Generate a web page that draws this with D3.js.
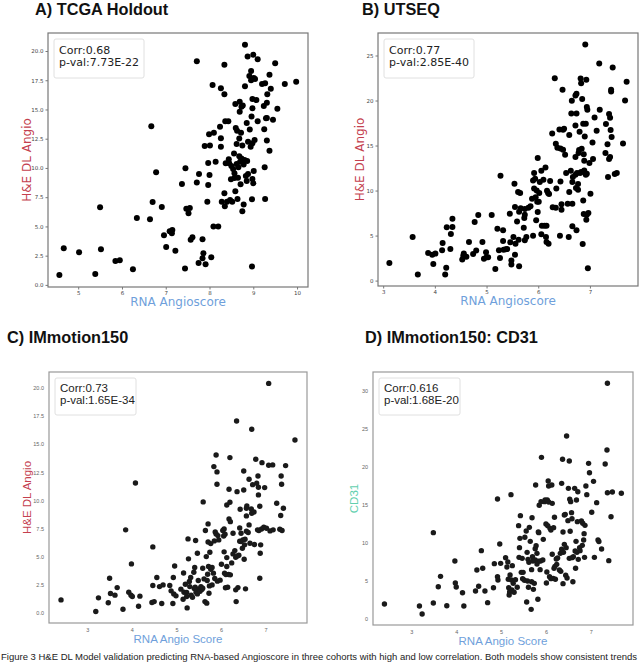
<!DOCTYPE html>
<html>
<head>
<meta charset="utf-8">
<script src="https://cdn.jsdelivr.net/npm/d3@7"></script>
<style>
  html, body { margin: 0; padding: 0; background: #fff; }
  svg { display: block; }
</style>
</head>
<body>
<svg id="chart" width="640" height="663"></svg>
<script>
// ---------------- DATA ----------------
const titles = ["A) TCGA Holdout", "B) UTSEQ", "C) IMmotion150", "D) IMmotion150: CD31"];
const xLabels = ["RNA Angioscore", "RNA Angioscore", "RNA Angio Score", "RNA Angio Score"];
const yLabels = ["H&E DL Angio", "H&E DL Angio", "H&E DL Angio", "CD31"];
const corrTexts = ["Corr:0.68", "Corr:0.77", "Corr:0.73", "Corr:0.616"];
const pvalTexts = ["p-val:7.73E-22", "p-val:2.85E-40", "p-val:1.65E-34", "p-val:1.68E-20"];

const xTicksA = [5, 6, 7, 8, 9, 10];
const yTicksA = [0, 2.5, 5, 7.5, 10, 12.5, 15, 17.5, 20];
const xTicksB = [3, 4, 5, 6, 7];
const yTicksB = [0, 5, 10, 15, 20, 25];
const xTicksC = [3, 4, 5, 6, 7];
const yTicksC = [0, 2.5, 5, 7.5, 10, 12.5, 15, 17.5, 20];
const xTicksD = [3, 4, 5, 6, 7];
const yTicksD = [0, 5, 10, 15, 20, 25, 30];

// Panel A: TCGA Holdout (RNA Angioscore, H&E DL Angio)
const tcga = [
[4.57,0.85],[4.67,3.13],[5.02,2.79],[5.39,0.94],[5.50,6.64],[5.52,3.05],[5.85,2.05],[5.95,2.1],
[6.25,1.34],[6.34,5.73],[6.64,5.61],[6.67,13.56],[6.70,7.09],[6.78,9.63],[6.91,6.67],[6.96,4.24],
[7.01,3.25],[7.09,4.59],[7.15,4.70],[7.14,4.42],[7.22,2.93],[7.37,8.63],[7.44,1.40],[7.45,9.97],
[7.47,6.52],[7.52,6.13],[7.55,6.58],[7.57,3.85],[7.61,4.07],[7.71,19.12],[7.71,8.75],[7.76,9.49],
[7.75,1.88],[7.84,3.90],[7.84,2.28],[7.86,2.71],[7.89,11.88],[7.91,1.77],[7.95,7.12],[7.97,10.43],
[7.97,8.55],[7.99,12.88],[8.00,9.40],[8.01,11.91],[8.04,2.36],[8.07,17.09],[8.09,4.99],[8.10,13.02],
[8.14,10.54],[8.20,4.99],[8.24,13.53],[8.26,16.81],[8.26,11.82],[8.26,12.54],[8.28,7.12],[8.34,16.30],
[8.34,18.83],[8.34,7.83],[8.35,6.72],[8.36,13.99],[8.37,10.40],[8.40,7.12],[8.43,13.99],[8.44,10.74],
[8.45,10.40],[8.47,7.26],[8.49,9.03],[8.50,10.17],[8.52,7.12],[8.56,11.23],[8.57,9.15],[8.57,9.54],
[8.59,8.01],[8.59,15.47],[8.60,13.42],[8.62,10.34],[8.62,12.05],[8.63,13.19],[8.64,7.35],[8.65,9.17],
[8.66,10.06],[8.68,12.51],[8.69,14.81],[8.69,15.67],[8.70,10.54],[8.71,8.60],[8.72,13.02],[8.73,15.24],
[8.73,10.80],[8.75,6.30],[8.75,11.91],[8.76,15.33],[8.78,6.87],[8.80,10.68],[8.81,20.54],[8.81,16.98],
[8.83,9.32],[8.85,13.85],[8.85,8.89],[8.86,10.60],[8.87,19.52],[8.88,12.25],[8.88,9.49],[8.91,17.86],
[8.92,13.28],[8.94,11.82],[8.95,17.49],[8.95,18.29],[8.96,14.39],[8.97,7.32],[8.97,1.57],[8.98,15.90],
[8.98,12.11],[8.98,9.06],[9.00,19.69],[9.00,8.69],[9.01,9.74],[9.01,17.69],[9.03,12.39],[9.04,17.61],
[9.07,15.81],[9.10,19.29],[9.10,13.99],[9.20,17.18],[9.24,15.30],[9.25,13.30],[9.26,10.06],[9.27,7.35],
[9.27,17.24],[9.29,14.25],[9.31,14.27],[9.31,12.34],[9.31,15.58],[9.32,16.30],[9.37,17.98],[9.37,11.48],
[9.40,16.78],[9.45,14.13],[9.50,18.95],[9.55,15.07],[9.72,17.18],[9.98,17.38],[8.98,15.10],[8.68,11.0],
[8.54,9.9],[8.78,10.3]
];

// Panel B: UTSEQ
const utseq = [
[3.12,1.96],[3.57,4.84],[3.67,0.67],[3.87,3.07],[3.95,2.88],[3.97,1.85],[4.01,3.0],[4.14,3.37],
[4.15,4.18],[4.20,0.67],[4.22,1.44],[4.23,5.92],[4.30,3.51],[4.31,5.18],[4.34,5.95],[4.34,6.88],
[4.53,2.33],[4.55,2.77],[4.56,3.0],[4.61,2.66],[4.66,4.29],[4.74,2.96],[4.77,6.51],[4.80,3.33],
[4.84,7.29],[4.92,4.29],[4.95,2.44],[4.99,3.14],[5.00,2.59],[5.03,2.59],[5.10,7.29],[5.17,1.29],
[5.21,5.77],[5.24,3.37],[5.26,2.51],[5.27,11.65],[5.32,4.40],[5.32,5.58],[5.33,3.44],[5.37,3.48],
[5.40,3.51],[5.45,7.43],[5.46,4.25],[5.48,1.78],[5.48,2.22],[5.52,4.84],[5.54,10.76],[5.55,2.88],
[5.55,8.17],[5.56,4.10],[5.59,6.55],[5.61,9.84],[5.62,4.55],[5.63,7.66],[5.63,1.59],[5.65,9.73],
[5.66,8.03],[5.72,5.88],[5.73,6.95],[5.74,4.47],[5.74,7.32],[5.74,7.95],[5.77,4.84],[5.81,8.10],
[5.85,8.25],[5.88,9.10],[5.90,4.99],[5.90,11.13],[5.92,11.95],[5.92,10.24],[5.94,11.32],[5.95,9.25],
[5.96,6.69],[5.97,10.02],[5.98,8.76],[5.99,13.61],[5.99,7.62],[6.01,8.76],[6.02,9.73],[6.03,10.95],
[6.06,12.2],[6.06,5.14],[6.07,6.10],[6.10,11.21],[6.12,6.10],[6.14,12.57],[6.15,4.84],[6.16,6.10],
[6.16,4.29],[6.17,9.99],[6.19,9.73],[6.20,4.10],[6.21,9.62],[6.23,11.06],[6.27,16.35],[6.28,8.14],
[6.32,22.48],[6.34,15.2],[6.34,8.10],[6.35,10.24],[6.37,14.76],[6.41,16.79],[6.42,4.99],[6.43,14.68],
[6.43,11.02],[6.45,8.47],[6.45,7.88],[6.47,21.19],[6.48,14.53],[6.48,16.75],[6.50,16.86],[6.52,13.98],
[6.54,11.95],[6.57,8.54],[6.59,4.84],[6.60,16.16],[6.60,9.84],[6.63,12.2],[6.64,18.56],[6.65,19.97],
[6.66,10.95],[6.66,6.03],[6.66,8.54],[6.67,11.5],[6.72,20.56],[6.72,13.72],[6.72,17.23],[6.72,11.76],
[6.73,10.28],[6.74,20.75],[6.74,18.56],[6.74,5.58],[6.75,11.95],[6.77,10.72],[6.77,10.1],[6.78,14.16],
[6.79,14.50],[6.80,16.53],[6.81,11.95],[6.82,22.45],[6.83,21.93],[6.83,12.06],[6.84,14.64],[6.85,20.16],
[6.86,4.07],[6.87,17.42],[6.87,8.91],[6.88,7.40],[6.88,14.02],[6.89,13.31],[6.89,12.24],[6.90,16.01],
[6.91,26.22],[6.92,11.76],[6.92,17.42],[6.93,22.30],[6.93,6.77],[6.94,11.87],[6.94,19.27],[6.94,7.32],
[6.95,18.97],[6.96,1.37],[6.97,7.51],[6.99,13.05],[7.01,9.65],[7.05,15.35],[7.06,13.50],[7.09,18.12],
[7.13,16.64],[7.18,24.11],[7.19,18.97],[7.30,14.16],[7.31,17.38],[7.34,15.13],[7.35,11.50],[7.37,13.50],
[7.37,18.49],[7.39,18.08],[7.39,13.72],[7.40,16.72],[7.41,21.19],[7.41,21.0],[7.42,15.94],[7.44,23.67],
[7.48,11.83],[7.52,11.95],[7.64,15.24],[7.68,20.01],[7.71,22.08]
];

// Panel C: IMmotion150 (RNA Angio Score, H&E DL Angio)
const immotion = [
[2.41,1.18],[3.19,0.15],[3.25,1.36],[3.47,0.92],[3.50,3.10],[3.52,1.74],[3.62,1.60],[3.67,2.27],
[3.80,0.35],[3.86,7.39],[3.93,1.86],[3.98,1.60],[3.99,4.37],[4.01,1.48],[4.08,11.55],[4.15,0.62],
[4.18,1.51],[4.45,0.95],[4.47,5.88],[4.47,2.45],[4.50,1.03],[4.56,3.16],[4.62,2.36],[4.67,0.86],
[4.70,2.51],[4.85,2.45],[4.88,1.98],[4.92,0.86],[4.93,3.16],[4.94,1.71],[4.96,4.19],[4.99,1.54],
[5.10,2.13],[5.15,1.24],[5.16,3.57],[5.17,1.86],[5.20,2.57],[5.23,1.83],[5.23,1.48],[5.24,0.47],
[5.26,6.59],[5.27,4.82],[5.29,2.81],[5.30,2.36],[5.32,3.16],[5.33,1.60],[5.36,1.42],[5.39,3.63],
[5.40,2.19],[5.41,4.05],[5.42,2.30],[5.43,6.44],[5.44,1.86],[5.47,5.32],[5.47,1.71],[5.49,2.90],
[5.50,2.16],[5.52,2.01],[5.53,1.95],[5.55,2.36],[5.57,2.1],[5.59,3.99],[5.59,2.22],[5.60,9.87],
[5.62,3.04],[5.64,1.03],[5.65,7.33],[5.67,5.02],[5.68,0.89],[5.69,2.90],[5.70,3.46],[5.71,6.32],
[5.71,7.92],[5.72,4.14],[5.73,1.77],[5.74,2.42],[5.75,5.41],[5.77,6.17],[5.77,3.90],[5.80,4.05],
[5.80,2.51],[5.83,3.55],[5.84,13.0],[5.85,6.41],[5.86,3.07],[5.87,7.21],[5.89,14.03],[5.89,7.03],
[5.91,12.53],[5.91,11.43],[5.92,2.84],[5.93,6.88],[5.95,6.50],[5.98,2.93],[6.01,4.34],[6.04,7.33],
[6.06,6.85],[6.07,7.47],[6.07,5.44],[6.08,3.55],[6.09,7.00],[6.10,2.25],[6.11,3.43],[6.13,4.14],
[6.13,4.93],[6.13,9.60],[6.15,2.30],[6.17,3.43],[6.18,10.99],[6.18,8.36],[6.20,13.80],[6.20,9.84],
[6.21,8.12],[6.21,3.40],[6.24,4.46],[6.27,7.09],[6.27,5.26],[6.31,5.55],[6.33,2.07],[6.33,4.96],
[6.34,1.03],[6.35,17.05],[6.36,10.78],[6.37,5.08],[6.38,2.27],[6.40,5.14],[6.42,7.56],[6.42,6.38],
[6.43,9.22],[6.45,7.09],[6.45,6.35],[6.48,5.76],[6.49,6.50],[6.51,10.93],[6.51,12.61],[6.52,4.79],
[6.53,6.06],[6.54,6.56],[6.55,2.16],[6.57,9.31],[6.57,8.63],[6.57,7.27],[6.58,9.51],[6.61,7.15],
[6.63,7.83],[6.63,11.88],[6.65,6.20],[6.68,9.25],[6.69,8.86],[6.69,16.31],[6.71,11.40],[6.74,8.98],
[6.75,6.09],[6.78,13.65],[6.80,11.52],[6.82,7.39],[6.83,12.17],[6.84,10.49],[6.84,11.17],[6.85,7.33],
[6.87,9.48],[6.87,3.10],[6.88,5.32],[6.89,6.06],[6.91,7.47],[6.92,13.35],[6.96,7.62],[6.98,11.14],
[7.02,7.53],[7.07,20.38],[7.07,13.12],[7.10,7.30],[7.16,13.15],[7.17,7.39],[7.25,9.75],[7.32,7.44],
[7.34,8.66],[7.35,12.17],[7.36,11.43],[7.37,7.33],[7.40,9.31],[7.45,13.09],[7.66,15.36]
];

// Panel D: IMmotion150 CD31 (RNA Angio Score, CD31)
const cd31 = [
[2.40,1.97],[3.18,1.71],[3.24,0.66],[3.49,2.11],[3.49,11.36],[3.60,4.25],[3.65,5.61],[3.79,1.75],
[3.97,7.63],[3.98,4.74],[4.00,4.21],[4.14,3.46],[4.17,1.71],[4.43,3.68],[4.46,6.45],[4.50,4.30],
[4.56,8.99],[4.59,6.67],[4.64,3.68],[4.70,2.15],[4.83,4.12],[4.85,7.28],[4.92,15.79],[4.92,5.57],
[4.93,5.13],[4.97,9.87],[4.99,7.32],[5.10,8.07],[5.13,6.84],[5.15,7.50],[5.16,5.22],[5.17,4.12],
[5.18,3.16],[5.19,3.55],[5.20,5.79],[5.22,16.36],[5.23,5.13],[5.24,3.82],[5.25,7.02],[5.27,4.69],
[5.29,3.51],[5.32,5.18],[5.36,4.17],[5.39,12.28],[5.40,8.11],[5.41,9.39],[5.42,10.61],[5.43,13.60],
[5.45,6.14],[5.47,7.98],[5.48,5.31],[5.49,6.14],[5.52,5.09],[5.53,10.75],[5.56,11.58],[5.57,2.24],
[5.58,8.77],[5.59,5.0],[5.60,7.85],[5.61,4.17],[5.62,7.46],[5.63,12.06],[5.65,10.22],[5.67,1.27],
[5.68,4.91],[5.68,6.49],[5.69,13.33],[5.70,8.20],[5.71,7.63],[5.72,3.90],[5.74,4.69],[5.76,9.25],
[5.76,7.76],[5.77,17.63],[5.78,9.65],[5.80,7.24],[5.80,8.64],[5.82,2.59],[5.83,11.45],[5.83,7.59],
[5.84,11.36],[5.85,14.96],[5.87,6.49],[5.88,7.63],[5.89,15.44],[5.90,21.27],[5.93,7.76],[5.94,10.48],
[5.97,15.44],[5.98,15.66],[6.00,12.5],[6.01,4.74],[6.02,6.18],[6.03,15.66],[6.04,12.28],[6.05,18.16],
[6.06,17.50],[6.06,15.39],[6.08,5.57],[6.09,11.93],[6.11,5.31],[6.11,11.71],[6.13,17.63],[6.14,15.22],
[6.14,8.51],[6.16,5.35],[6.17,12.02],[6.18,6.67],[6.19,13.38],[6.20,6.93],[6.21,5.22],[6.23,7.89],
[6.24,7.19],[6.26,8.03],[6.30,6.45],[6.32,8.64],[6.33,6.27],[6.35,9.17],[6.35,17.85],[6.37,21.01],
[6.38,11.45],[6.38,4.65],[6.39,8.77],[6.41,13.68],[6.41,9.82],[6.43,13.77],[6.44,5.75],[6.45,9.39],
[6.46,24.08],[6.47,5.39],[6.49,12.94],[6.50,17.19],[6.52,20.79],[6.52,7.98],[6.53,15.75],[6.54,11.54],
[6.55,15.44],[6.57,13.99],[6.58,8.07],[6.58,13.20],[6.60,4.91],[6.61,8.20],[6.64,17.19],[6.65,8.95],
[6.66,6.67],[6.67,10.22],[6.68,15.66],[6.69,8.77],[6.70,12.81],[6.71,16.75],[6.72,7.85],[6.75,9.39],
[6.76,8.99],[6.79,12.89],[6.81,9.69],[6.82,12.59],[6.84,10.39],[6.85,11.23],[6.86,8.11],[6.87,12.32],
[6.89,17.50],[6.91,16.36],[6.95,20.48],[6.97,19.25],[7.02,14.04],[7.06,18.11],[7.08,8.11],[7.13,15.31],
[7.16,10.39],[7.18,10.2],[7.24,9.21],[7.32,20.39],[7.36,22.24],[7.37,31.01],[7.37,16.62],[7.40,7.68],
[7.45,13.46],[7.48,16.71],[7.68,16.54]
];

const caption = "Figure 3 H&E DL Model validation predicting RNA-based Angioscore in three cohorts with high and low correlation. Both models show consistent trends";

// ---------------- LAYOUT ----------------
const panels = [
  { data: tcga, xTicks: xTicksA, yTicks: yTicksA, yFmt: d3.format(".1f"),
    box: [48, 33, 308, 287], xDom: [4.31, 10.25], yDom: [-0.18, 21.54],
    style: "mpl", titleX: 35, ylabX: 27, ylabColor: "#c4404e" },
  { data: utseq, xTicks: xTicksB, yTicks: yTicksB, yFmt: d3.format("d"),
    box: [378, 33, 638, 286], xDom: [2.9, 7.93], yDom: [-0.6, 27.5],
    style: "mpl", titleX: 362, ylabX: 360, ylabColor: "#c4404e" },
  { data: immotion, xTicks: xTicksC, yTicks: yTicksC, yFmt: d3.format(".1f"),
    box: [49, 372, 307, 623], xDom: [2.14, 7.93], yDom: [-0.87, 21.39],
    style: "sns", titleX: 7, ylabX: 27, ylabColor: "#c4404e" },
  { data: cd31, xTicks: xTicksD, yTicks: yTicksD, yFmt: d3.format("d"),
    box: [373, 372, 633, 625], xDom: [2.145, 7.94], yDom: [-0.79, 32.5],
    style: "sns", titleX: 365, ylabX: 354, ylabColor: "#62cfae" }
];

const svg = d3.select("#chart");
svg.append("rect").attr("width", 640).attr("height", 663).attr("fill", "#fff");

panels.forEach((p, i) => {
  const [x0, y0, x1, y1] = p.box;
  const mpl = p.style === "mpl";
  const font = mpl ? "DejaVu Sans, sans-serif" : "Liberation Sans, Arial, sans-serif";
  const x = d3.scaleLinear().domain(p.xDom).range([x0, x1]);
  const y = d3.scaleLinear().domain(p.yDom).range([y1, y0]);
  const g = svg.append("g");

  // title
  g.append("text").attr("x", p.titleX).attr("y", i < 2 ? 15 : 343)
    .attr("font-family", "Liberation Sans, Arial, sans-serif")
    .attr("font-weight", "bold").attr("font-size", 16.3).attr("fill", "#111")
    .text(titles[i]);

  // axes
  const xAxis = d3.axisBottom(x).tickValues(p.xTicks).tickFormat(d3.format("d"))
    .tickSize(mpl ? 2.5 : 0).tickPadding(mpl ? 2 : 5);
  const yAxis = d3.axisLeft(y).tickValues(p.yTicks).tickFormat(p.yFmt)
    .tickSize(mpl ? 2.5 : 0).tickPadding(mpl ? 2 : 5);
  const tickCol = mpl ? "#444" : "#666";
  const gx = g.append("g").attr("transform", `translate(0,${y1})`).call(xAxis);
  const gy = g.append("g").attr("transform", `translate(${x0},0)`).call(yAxis);
  [gx, gy].forEach(a => {
    a.select(".domain").remove();
    a.selectAll("text").attr("font-family", font).attr("font-size", 5.5).attr("fill", tickCol);
    a.selectAll("line").attr("stroke", "#555").attr("stroke-width", 0.8);
  });

  // frame
  g.append("rect").attr("x", x0).attr("y", y0).attr("width", x1 - x0).attr("height", y1 - y0)
    .attr("fill", "none").attr("stroke", mpl ? "#777" : "#999").attr("stroke-width", 1.2);

  // points
  g.append("g").selectAll("circle").data(p.data).join("circle")
    .attr("cx", d => x(d[0])).attr("cy", d => y(d[1]))
    .attr("r", mpl ? 3.0 : 2.7).attr("fill", mpl ? "#000" : "#1a1a1a");

  // legend box
  const lx = x0 + 6, ly = y0 + 6;
  const lw = mpl ? 90 : 81, lh = mpl ? 39 : 37;
  g.append("rect").attr("x", lx).attr("y", ly).attr("width", lw).attr("height", lh)
    .attr("rx", 2).attr("fill", "#fff").attr("stroke", "#e0e0e0").attr("stroke-width", 1);
  const lfs = mpl ? 11 : 11.5;
  g.append("text").attr("x", lx + 5).attr("y", ly + (mpl ? 14.5 : 13.5))
    .attr("font-family", font).attr("font-size", lfs).attr("fill", "#222").text(corrTexts[i]);
  g.append("text").attr("x", lx + 5).attr("y", ly + (mpl ? 27 : 25.5))
    .attr("font-family", font).attr("font-size", lfs).attr("fill", "#222").text(pvalTexts[i]);

  // x label
  g.append("text").attr("x", (x0 + x1) / 2).attr("y", mpl ? y1 + 19 : y1 + 20)
    .attr("text-anchor", "middle").attr("font-family", font)
    .attr("font-size", mpl ? 12 : 11.5).attr("fill", "#6f9fdb").text(xLabels[i]);

  // y label
  const cy = (y0 + y1) / 2;
  g.append("text").attr("transform", `translate(${p.ylabX + 4},${cy}) rotate(-90)`)
    .attr("text-anchor", "middle").attr("font-family", font)
    .attr("font-size", mpl ? 12 : 11.5).attr("fill", p.ylabColor).text(yLabels[i]);
});

// caption along the bottom edge
svg.append("text").attr("x", 1).attr("y", 660)
  .attr("font-family", "Liberation Sans, Arial, sans-serif").attr("font-size", 9)
  .attr("textLength", 636).attr("lengthAdjust", "spacingAndGlyphs")
  .attr("fill", "#222").text(caption);
</script>
</body>
</html>
